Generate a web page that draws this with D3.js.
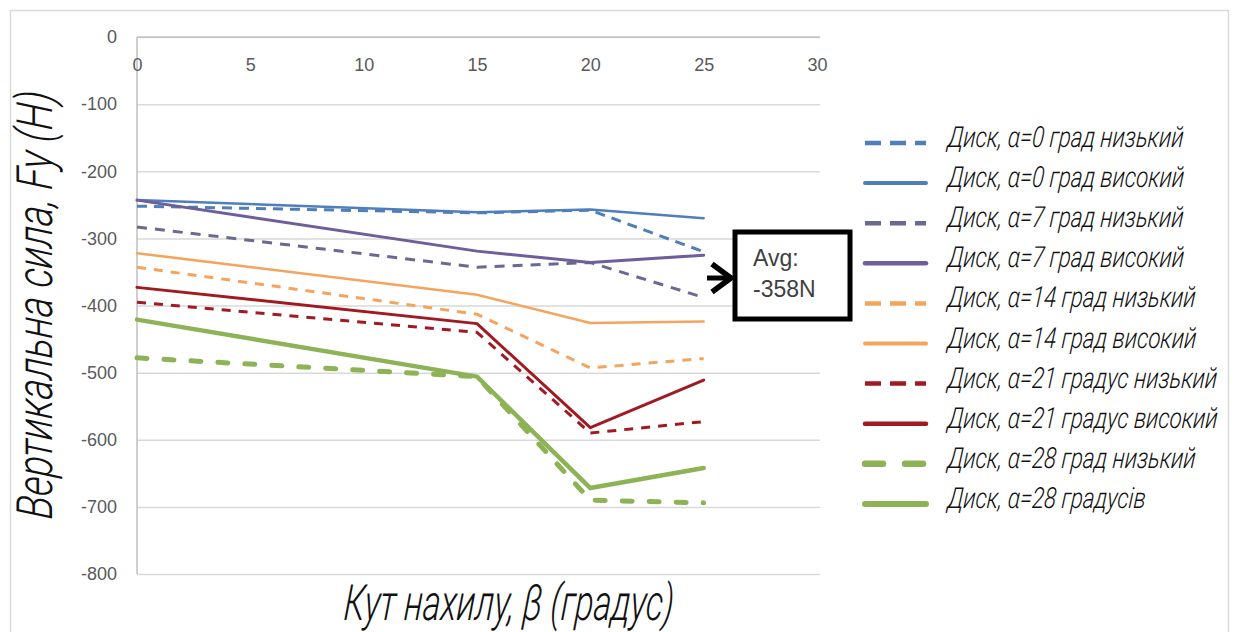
<!DOCTYPE html>
<html><head><meta charset="utf-8">
<script src="https://cdn.jsdelivr.net/npm/d3@7"></script>
<style>body{margin:0;background:#fff} svg{display:block}</style>
</head><body><svg id="c" width="1239" height="632"></svg>
<script>
// ---- data ----
const betas = [0, 15, 20, 25];
const xTicks = [0, 5, 10, 15, 20, 25, 30];
const yTicks = [0, -100, -200, -300, -400, -500, -600, -700, -800];
const seriesLabels = [
  "Диск, α=0 град низький",
  "Диск, α=0 град високий",
  "Диск, α=7 град низький",
  "Диск, α=7 град високий",
  "Диск, α=14 град низький",
  "Диск, α=14 град високий",
  "Диск, α=21 градус низький",
  "Диск, α=21 градус високий",
  "Диск, α=28 град низький",
  "Диск, α=28 градусів"
];
const low0   = [-252, -262, -258, -320];
const high0  = [-243, -261, -257, -270];
const low7   = [-283, -343, -336, -388];
const high7  = [-243, -319, -336, -325];
const low14  = [-343, -413, -493, -479];
const high14 = [-322, -384, -426, -424];
const low21  = [-395, -440, -590, -573];
const high21 = [-373, -427, -582, -511];
const low28  = [-478, -506, -690, -694];
const high28 = [-421, -506, -672, -642];
const seriesValues = [low0, high0, low7, high7, low14, high14, low21, high21, low28, high28];
const xTitle = "Кут нахилу, β (градус)";
const yTitle = "Вертикальна сила, Fy (H)";
const noteLines = ["Avg:", "-358N"];

// ---- styles ----
const styles = [
  {c:"#4f7fbb", w:3,   dash:"10,7",  ldash:"16,9"},
  {c:"#4f7fbb", w:2.5, dash:null},
  {c:"#6a6990", w:3,   dash:"10,8",  ldash:"16,9"},
  {c:"#6e5e9c", w:3,   dash:null},
  {c:"#f4a45c", w:3,   dash:"9,8",   ldash:"16,9"},
  {c:"#f4a45c", w:2.5, dash:null},
  {c:"#a01a22", w:3,   dash:"9,8",   ldash:"16,9"},
  {c:"#a01a22", w:3,   dash:null},
  {c:"#8db356", w:5,   dash:"10,17", ldash:"18,22", cap:"round"},
  {c:"#8db356", w:4.5, dash:null}
];

const svg = d3.select("#c");
const x = d3.scaleLinear().domain([0, 30]).range([137, 817]);
const y = d3.scaleLinear().domain([0, -800]).range([37, 574]);

// chart border
svg.append("rect").attr("x",10.5).attr("y",10.5).attr("width",1218).attr("height",640)
  .attr("fill","none").attr("stroke","#d9d9d9").attr("stroke-width",1.5);

// gridlines
const grid = svg.append("g").attr("transform","translate(137,0)")
  .call(d3.axisLeft(y).tickValues(yTicks).tickSize(-(820-137)).tickFormat(""));
grid.select(".domain").remove();
grid.selectAll("line").attr("stroke","#d9d9d9").attr("stroke-width",1.5);

// axis lines
svg.append("line").attr("x1",x(0)).attr("x2",820).attr("y1",y(0)).attr("y2",y(0))
  .attr("stroke","#bfbfbf").attr("stroke-width",1.5);
svg.append("line").attr("x1",x(0)).attr("x2",x(0)).attr("y1",y(0)).attr("y2",y(-800))
  .attr("stroke","#bfbfbf").attr("stroke-width",1.5);

// tick labels (plain hyphen minus as in the reference)
const fmt = d => String(d);
const xa = svg.append("g").attr("transform",`translate(0,${y(0)})`)
  .call(d3.axisBottom(x).tickValues(xTicks).tickSize(0).tickPadding(21).tickFormat(fmt));
xa.select(".domain").remove();
xa.selectAll("text").attr("font-family","Liberation Sans, Arial, sans-serif").attr("font-size",18).attr("fill","#595959");

const ya = svg.append("g").attr("transform",`translate(${x(0)},0)`)
  .call(d3.axisLeft(y).tickValues(yTicks).tickSize(0).tickPadding(20).tickFormat(fmt));
ya.select(".domain").remove();
ya.selectAll("text").attr("font-family","Liberation Sans, Arial, sans-serif").attr("font-size",18).attr("fill","#595959");

// series lines
const line = d3.line().x((d,i)=>x(betas[i])).y(d=>y(d));
seriesValues.forEach((vals,i)=>{
  const s = styles[i];
  const p = svg.append("path").datum(vals).attr("d",line)
    .attr("fill","none").attr("stroke",s.c).attr("stroke-width",s.w)
    .attr("stroke-linejoin","round").attr("stroke-linecap", s.cap || (s.dash ? "butt" : "round"));
  if (s.dash) p.attr("stroke-dasharray", s.dash);
});

// font helper
const titleFont = "Roboto, 'Open Sans', sans-serif";
function fitText(parent, str, size, targetLen, tx, ty, rot) {
  const g = parent.append("g");
  const t = g.append("text").text(str).attr("font-family",titleFont).attr("font-style","italic")
    .attr("font-weight",300).attr("font-size",size).attr("fill","#111");
  const nat = t.node().getComputedTextLength();
  const f = targetLen / nat;
  t.attr("x", -nat/2);
  g.attr("transform",`translate(${tx},${ty}) rotate(${rot||0}) scale(${f},1) skewX(-6)`);
  return f;
}

// axis titles
fitText(svg, xTitle, 50, 330, 508, 620, 0);
fitText(svg, yTitle, 50, 428, 52, 306, -90);

// legend
const lg = svg.append("g");
let factor = null;
seriesLabels.forEach((lab,i)=>{
  const s = styles[i];
  const ly = 143 + i*40.1;
  const l = lg.append("line").attr("x1",865).attr("x2",926).attr("y1",ly).attr("y2",ly)
    .attr("stroke",s.c).attr("stroke-width",s.w+1.5).attr("stroke-linecap", s.dash && !s.cap ? "butt" : "round");
  if (s.dash) l.attr("stroke-dasharray", s.ldash);
  const g = lg.append("g");
  const t = g.append("text").text(lab).attr("font-family",titleFont).attr("font-style","italic")
    .attr("font-weight",300).attr("font-size",29).attr("fill","#111");
  if (factor === null) factor = 236 / t.node().getComputedTextLength();
  g.attr("transform",`translate(947,${ly+4}) scale(${factor},1) skewX(-6)`);
});

// annotation box with arrow
const ann = svg.append("g");
ann.append("rect").attr("x",735).attr("y",232).attr("width",115).attr("height",87)
  .attr("fill","#fff").attr("stroke","#000").attr("stroke-width",5);
ann.append("line").attr("x1",707).attr("x2",731).attr("y1",278).attr("y2",278)
  .attr("stroke","#000").attr("stroke-width",5);
ann.append("path").attr("d","M712,264 L731,278 L712,292").attr("fill","none")
  .attr("stroke","#000").attr("stroke-width",5.5).attr("stroke-linejoin","miter");
noteLines.forEach((s,i)=>{
  ann.append("text").attr("x",753).attr("y",266 + i*31).text(s)
    .attr("font-family","Liberation Sans, Arial, sans-serif").attr("font-size",23).attr("fill","#404040");
});
</script></body></html>
